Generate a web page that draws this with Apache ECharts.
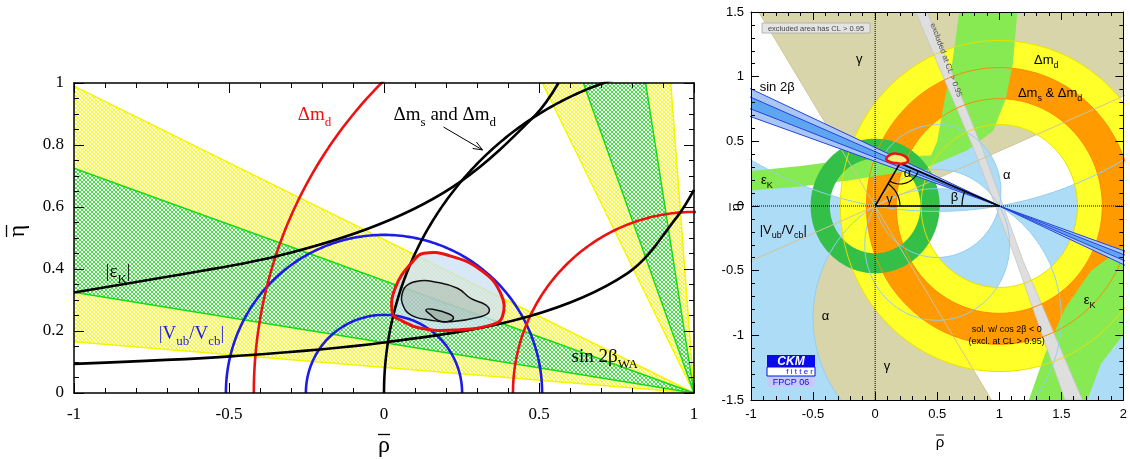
<!DOCTYPE html>
<html><head><meta charset="utf-8">
<script src="https://cdn.jsdelivr.net/npm/echarts@6/dist/echarts.min.js"></script>
<style>html,body{margin:0;padding:0;background:#fff}#c{width:1130px;height:459px}</style>
</head><body><div id="c"></div>
<script>
// ================= LEFT PANEL DATA =================
const sin2bEtaAtRhoM1 = [0.99, 0.725, 0.325, 0.165];   // wedge A edges (yellow, green, green, yellow) at rho=-1
const sin2bRhoAtEta1  = [0.511, 0.643, 0.844, 0.925];  // wedge B edges at eta=1
const vubRadiiL = [0.252, 0.51];
const dmdRadiiL = [0.584, 1.42];
const dmsCircleL = [1.06, 1.06];                        // centre rho, radius
const epsKLowerL = [[-1,0.094],[-0.484,0.119],[0,0.163],[0.463,0.246],[0.785,0.386],[0.946,0.569],[1.0,0.655]];
const epsKUpperL = [[-1,0.324],[-0.7,0.375],[-0.35,0.44],[-0.013,0.545],[0.247,0.682],[0.489,0.897],[0.563,1.0]];
const contourOuterL = [[0.027,0.257],[0.038,0.343],[0.097,0.429],[0.129,0.451],[0.204,0.445],[0.312,0.397],[0.376,0.322],[0.382,0.246],[0.344,0.219],[0.226,0.203],[0.118,0.209],[0.054,0.235]];
const contourMidL = [[0.059,0.322],[0.075,0.348],[0.118,0.362],[0.161,0.359],[0.237,0.338],[0.28,0.305],[0.328,0.284],[0.339,0.262],[0.312,0.246],[0.215,0.23],[0.151,0.235],[0.086,0.252],[0.059,0.289]];
const contourInnerL = [[0.135,0.268],[0.156,0.27],[0.21,0.255],[0.224,0.241],[0.204,0.23],[0.177,0.233],[0.151,0.252]];
const arrowL = [[0.192,0.858],[0.318,0.784]];

// ================= RIGHT PANEL DATA =================
const gammaRangeDeg = [23, 122];
const alphaRangesDeg = [[150, 189.5], [77, 121]];
const dmdRingR = [0.63, 1.28];
const dmsRingR = [0.83, 1.07];
const vubRingR = [0.365, 0.52];
const sin2bOuterR = [0.69, 0.905];   // eta at rho=-1
const sin2bInnerR = [0.75, 0.84];
const epsKBandHiLo = [[-1.05,0.115],[-0.6,0.15],[-0.2,0.2],[0.2,0.26],[0.42,0.3],[0.74,0.43],[0.95,0.58],[1.05,0.82],[1.11,1.1],[1.15,1.55]];
const epsKBandHiUp = [[-1.05,0.265],[-0.6,0.31],[-0.2,0.36],[0.1,0.38],[0.45,0.39],[0.5,0.5],[0.56,0.82],[0.62,1.1],[0.685,1.55]];
const epsKBandLow = [[1.22,-1.55],[1.37,-1.14],[1.53,-0.79],[1.74,-0.5],[2.05,-0.28],[2.05,-0.93],[1.82,-1.22],[1.69,-1.55]];
const grayBand = [[0.327,1.5],[0.42,1.5],[0.87,0.43],[1.19,-0.42],[1.67,-1.5],[1.53,-1.5],[1.135,-0.42],[0.8,0.43]];
const apexR = [0.2, 0.33];
const apexContourR = [[0.09,0.365],[0.12,0.395],[0.165,0.405],[0.235,0.388],[0.265,0.352],[0.235,0.33],[0.17,0.332],[0.115,0.342]];

// ================= HELPERS =================
const BIG = 30;
const serif = '"Liberation Serif","DejaVu Serif",serif';
const sans = '"Liberation Sans","DejaVu Sans",Arial,sans-serif';
const D2R = Math.PI/180;
function arcDeg(cx, cy, r, a0, a1, n){ n=n||180; const p=[]; for(let i=0;i<=n;i++){const t=(a0+(a1-a0)*i/n)*D2R; p.push([cx+r*Math.cos(t), cy+r*Math.sin(t)]);} return p; }
function arcRad(cx, cy, r, t0, t1, n){ n=n||300; const p=[]; for(let i=0;i<=n;i++){const t=t0+(t1-t0)*i/n; p.push([cx+r*Math.cos(t), cy+r*Math.sin(t)]);} return p; }
function ring(cx, cy, r1, r2){ return arcDeg(cx,cy,r2,0,360,240).concat(arcDeg(cx,cy,r1,360,0,240)); }
function hatch(rgb){ const c=document.createElement('canvas'); c.width=c.height=4; const g=c.getContext('2d'); const im=g.createImageData(4,4);
  for(let y=0;y<4;y++) for(let x=0;x<4;x++){ if(x===y || x===3-y){ const i=(y*4+x)*4; im.data[i]=rgb[0]; im.data[i+1]=rgb[1]; im.data[i+2]=rgb[2]; im.data[i+3]=255; } }
  g.putImageData(im,0,0); return c; }
const yellowHatch = {image: hatch([250,250,40]), repeat:'repeat'};
const greenHatch = {image: hatch([70,225,70]), repeat:'repeat'};

function polySeries(gi, polys, style, z, smooth){
  return {type:'custom', xAxisIndex:gi*2, yAxisIndex:gi*2, clip:true, silent:true, z:z, animation:false, data:[[0,0]],
    renderItem:(params, api)=>({type:'group', children: polys.map(p=>({type:'polygon', shape:{points:p.map(q=>api.coord(q)), smooth:smooth||0}, style:style}))})};
}
function lineSeries(gi, data, color, width, z, extra){
  const ls = Object.assign({color:color, width:width}, extra||{});
  return {type:'line', xAxisIndex:gi*2, yAxisIndex:gi*2, data:data, showSymbol:false, symbol:'none', silent:true, animation:false, z:z, lineStyle:ls, clip:true};
}
function kOf(a){ if(a<=0) return Infinity; if(a>=180) return -Infinity; return 0.5/Math.tan(a*D2R); }
function upperArc(k){ if(k===Infinity) return [[0,0],[-BIG,0],[-BIG,BIG],[BIG,BIG],[BIG,0],[1,0]]; if(k===-Infinity) return [[0,0],[1,0]];
  const R=Math.hypot(0.5,k), t0=Math.atan2(-k,-0.5), t1=Math.atan2(-k,0.5); return arcRad(0.5,k,R,t0, t1<t0?t1:t1-2*Math.PI, 400); }
function lowerArc(k){ if(k===-Infinity) return [[0,0],[-BIG,0],[-BIG,-BIG],[BIG,-BIG],[BIG,0],[1,0]]; if(k===Infinity) return [[0,0],[1,0]];
  const R=Math.hypot(0.5,k), t0=Math.atan2(-k,-0.5), t1=Math.atan2(-k,0.5); return arcRad(0.5,k,R,t0, t1>t0?t1:t1+2*Math.PI, 400); }
function alphaPolys(a1, a2){ const k1=kOf(a1), k2=kOf(a2); return [upperArc(k1).concat(upperArc(k2).slice().reverse()), lowerArc(k2).concat(lowerArc(k1).slice().reverse())]; }
let alphaRegion = [];
alphaRangesDeg.forEach(([a1,a2])=>{ if(a2>180){ alphaRegion=alphaRegion.concat(alphaPolys(a1,180), alphaPolys(0,a2-180)); } else alphaRegion=alphaRegion.concat(alphaPolys(a1,a2)); });
const alphaBounds = []; alphaRangesDeg.forEach(r=>r.forEach(a=>alphaBounds.push(a%180)));

// ================= LEFT SERIES =================
const [eYo, eGo, eGi, eYi] = sin2bEtaAtRhoM1;
const [rYo, rGo, rGi, rYi] = sin2bRhoAtEta1;
const series = [];
series.push(polySeries(0, [[[1,0],[-1,eYo],[-1,eGo]], [[1,0],[-1,eGi],[-1,eYi]], [[1,0],[rYo,1],[rGo,1]], [[1,0],[rGi,1],[rYi,1]]], {fill:yellowHatch}, 1));
series.push(polySeries(0, [[[1,0],[-1,eGo],[-1,eGi]], [[1,0],[rGo,1],[rGi,1]]], {fill:greenHatch}, 1));
[[-1,eYo],[-1,eYi],[rYo,1],[rYi,1]].forEach(p=>series.push(lineSeries(0,[[1,0],p],'#f4f400',1.5,2)));
[[-1,eGo],[-1,eGi],[rGo,1],[rGi,1]].forEach(p=>series.push(lineSeries(0,[[1,0],p],'#18d818',1.5,2)));
series.push(polySeries(0, [contourOuterL], {fill:'rgba(205,225,245,0.78)'}, 3, 0.45));
series.push(polySeries(0, [contourMidL], {fill:'rgba(160,172,160,0.45)'}, 3, 0.45));
series.push(polySeries(0, [contourInnerL], {fill:'rgba(130,145,130,0.3)'}, 3, 0.45));
vubRadiiL.forEach(r=>series.push(lineSeries(0, arcDeg(0,0,r,0,180), '#1c1ce6', 2.6, 4)));
dmdRadiiL.forEach(r=>series.push(lineSeries(0, arcDeg(1,0,r,0,180), '#ee1111', 2.6, 4)));
series.push(lineSeries(0, arcDeg(dmsCircleL[0],0,dmsCircleL[1],0,180,360), '#000', 2.6, 4));
series.push(Object.assign(lineSeries(0, epsKLowerL, '#000', 2.6, 4), {smooth:0.35}));
series.push(Object.assign(lineSeries(0, epsKUpperL, '#000', 2.6, 4), {smooth:0.35}));
series.push(polySeries(0, [contourOuterL], {fill:'none', stroke:'#ee1111', lineWidth:3}, 5, 0.45));
series.push(polySeries(0, [contourMidL], {fill:'none', stroke:'#111', lineWidth:1.5}, 5, 0.45));
series.push(polySeries(0, [contourInnerL], {fill:'none', stroke:'#111', lineWidth:1.5}, 5, 0.45));
series.push({type:'custom', xAxisIndex:0, yAxisIndex:0, silent:true, z:6, animation:false, data:[[0,0]],
  renderItem:(p, api)=>{ const a=api.coord(arrowL[0]), b=api.coord(arrowL[1]); const ang=Math.atan2(b[1]-a[1], b[0]-a[0]); const L=10, w=0.38;
    const h1=[b[0]-L*Math.cos(ang-w), b[1]-L*Math.sin(ang-w)], h2=[b[0]-L*Math.cos(ang+w), b[1]-L*Math.sin(ang+w)];
    return {type:'group', children:[{type:'line', shape:{x1:a[0],y1:a[1],x2:b[0],y2:b[1]}, style:{stroke:'#000', lineWidth:1}},
      {type:'polyline', shape:{points:[h1,b,h2]}, style:{stroke:'#000', lineWidth:1, fill:'none'}}]}; }});

// ================= RIGHT SERIES =================
const [g1, g2] = gammaRangeDeg; const gm=(g1+g2)/2;
const far = (a)=>[BIG*Math.cos(a*D2R), BIG*Math.sin(a*D2R)];
series.push(polySeries(1, [[[0,0],far(g1),far(gm),far(g2)], [[0,0],far(g1+180),far(gm+180),far(g2+180)]], {fill:'#d9d5ab'}, 1));
series.push(polySeries(1, alphaRegion, {fill:'#addcf6'}, 2));
series.push(polySeries(1, [ring(1,0,dmdRingR[0],dmdRingR[1])], {fill:'#ffff2a'}, 3));
series.push(polySeries(1, [ring(1,0,dmsRingR[0],dmsRingR[1])], {fill:'#ff9a00'}, 4));
series.push(polySeries(1, [epsKBandHiLo.concat(epsKBandHiUp.slice().reverse()), epsKBandLow], {fill:'#88ea52'}, 5));
series.push(polySeries(1, [ring(0,0,vubRingR[0],vubRingR[1])], {fill:'#34bf48'}, 6));
series.push(polySeries(1, [grayBand], {fill:'#dedede', stroke:'#c4c4c4', lineWidth:0.8}, 7));
alphaBounds.forEach(a=>{ const k=kOf(a); if(isFinite(k)) series.push(lineSeries(1, arcRad(0.5,k,Math.hypot(0.5,k),0,2*Math.PI,360), '#92cdf0', 1, 8)); });
gammaRangeDeg.forEach(a=>series.push(lineSeries(1, [far(a+180), far(a)], '#cdc59a', 1, 8)));
dmdRingR.forEach(r=>series.push(lineSeries(1, arcDeg(1,0,r,0,360,240), '#e8e000', 1, 8)));
dmsRingR.forEach(r=>series.push(lineSeries(1, arcDeg(1,0,r,0,360,240), '#ff8a00', 1, 8)));
const bandPolys = (e)=>[[[1,0],[-2,1.5*e[0]],[-2,1.5*e[1]]], [[1,0],[3,-e[0]],[3,-e[1]]]];
series.push(polySeries(1, bandPolys(sin2bOuterR), {fill:'#a9c6f5'}, 9));
series.push(polySeries(1, bandPolys(sin2bInnerR), {fill:'#5fa6f2'}, 9));
sin2bOuterR.concat(sin2bInnerR).forEach(e=>series.push(lineSeries(1, [[-2,1.5*e],[3,-e]], '#2444dc', 1, 10)));
series.push(lineSeries(1, [[0,-1.5],[0,1.5]], '#000', 1, 11, {type:'dotted'}));
series.push(lineSeries(1, [[-1,0],[2,0]], '#000', 1, 11, {type:'dotted'}));
series.push(lineSeries(1, [[0,0],[1,0]], '#000', 1.6, 12));
series.push(lineSeries(1, [[0,0],apexR,[1,0]], '#000', 1.6, 12));
const angApexTo1 = Math.atan2(-apexR[1], 1-apexR[0])/D2R, angApexTo0 = Math.atan2(-apexR[1], -apexR[0])/D2R, angGamma = Math.atan2(apexR[1],apexR[0])/D2R, angBeta = Math.atan2(apexR[1], apexR[0]-1)/D2R;
series.push(lineSeries(1, arcDeg(0,0,0.2,0,angGamma,40), '#000', 1.2, 12));
series.push(lineSeries(1, arcDeg(1,0,0.3,angBeta,180,40), '#000', 1.2, 12));
series.push(lineSeries(1, arcDeg(apexR[0],apexR[1],0.16,angApexTo0,angApexTo1,40), '#000', 1.2, 12));
series.push(polySeries(1, [apexContourR], {fill:'#eef27a', stroke:'#ee1111', lineWidth:2.5}, 13, 0.5));

// ================= AXES =================
function mkAxis(gi, pos, min, max, interval, split, showLabel, font, fs, margin, lw, tl){
  return {type:'value', gridIndex:gi, position:pos, min:min, max:max, interval:interval, z:60,
    axisLine:{show:true, onZero:false, lineStyle:{color:'#000', width:lw}},
    axisTick:{show:true, inside:true, length:tl, lineStyle:{color:'#000', width:1}},
    minorTick:{show:true, splitNumber:split, length:tl/2, lineStyle:{color:'#000', width:1}},
    axisLabel:{show:showLabel, color:'#000', fontFamily:font, fontSize:fs, margin:margin, showMinLabel:true, showMaxLabel:true},
    splitLine:{show:false}, minorSplitLine:{show:false}};
}
const option = {
  animation:false, backgroundColor:'#fff',
  grid:[{left:74, top:83, width:620, height:310}, {left:751, top:12, width:379, height:388}],
  xAxis:[mkAxis(0,'bottom',-1,1,0.5,5,true,serif,17,13,1.5,10), mkAxis(0,'top',-1,1,0.5,5,false,serif,17,13,1.5,10),
         mkAxis(1,'bottom',-1,2,0.5,5,true,sans,13,8,1,8), mkAxis(1,'top',-1,2,0.5,5,false,sans,13,8,1,8)],
  yAxis:[mkAxis(0,'left',0,1,0.2,4,true,serif,17,10,1.5,10), mkAxis(0,'right',0,1,0.2,4,false,serif,17,10,1.5,10),
         mkAxis(1,'left',-1.5,1.5,0.5,5,true,sans,13,7,1,8), mkAxis(1,'right',-1.5,1.5,0.5,5,false,sans,13,7,1,8)],
  series: series
};
const chart = echarts.init(document.getElementById('c'));
chart.setOption(option);

// ================= LABELS =================
const leftLabels = [
  {parts:[['Δm',''],['d','s']], at:[-0.278,0.897], color:'#ee1111'},
  {parts:[['Δm',''],['s','s'],[' and Δm',''],['d','s']], at:[0.031,0.897], color:'#000'},
  {parts:[['|ε',''],['K','s'],['|','']], at:[-0.898,0.39], color:'#000'},
  {parts:[['|V',''],['ub','s'],['/V',''],['cb','s'],['|','']], at:[-0.727,0.19], color:'#1c1ce6'},
  {parts:[['sin 2β',''],['WA','s']], at:[0.605,0.116], color:'#000'}
];
const rightLabels = [
  {parts:[['γ','']], at:[-0.155,1.13]},
  {parts:[['sin 2β','']], at:[-0.93,0.92]},
  {parts:[['Δm',''],['d','s']], at:[1.28,1.126]},
  {parts:[['Δm',''],['s','s'],[' & Δm',''],['d','s']], at:[1.15,0.87]},
  {parts:[['ε',''],['K','s']], at:[-0.92,0.2]},
  {parts:[['α','']], at:[1.03,0.235]},
  {parts:[['|V',''],['ub','s'],['/V',''],['cb','s'],['|','']], at:[-0.93,-0.19]},
  {parts:[['α','']], at:[-0.43,-0.855]},
  {parts:[['γ','']], at:[0.07,-1.24]},
  {parts:[['ε',''],['K','s']], at:[1.68,-0.73]},
  {parts:[['α','']], at:[0.23,0.253]},
  {parts:[['γ','']], at:[0.09,0.054]},
  {parts:[['β','']], at:[0.61,0.067]}
];
const smallNotes = [
  {text:'sol. w/ cos 2β < 0', at:[1.06,-0.955]},
  {text:'(excl. at CL > 0.95)', at:[1.06,-1.05]}
];
const mctx = document.createElement('canvas').getContext('2d');
function sty(t, font, fs, color, align){ return {text:t, fill:color, font:fs+'px '+font, align:align||'left', verticalAlign:'middle', textAlign:align||'left', textVerticalAlign:'middle'}; }
function build(lbl, gi, font, fs, sfs, color){
  const p = chart.convertToPixel({xAxisIndex:gi*2, yAxisIndex:gi*2}, lbl.at);
  let x=p[0]; const els=[];
  lbl.parts.forEach(([t,k])=>{ const f = k==='s'?sfs:fs; mctx.font = f+'px '+font; const w=mctx.measureText(t).width;
    els.push({type:'text', x:x, y:p[1] + (k==='s'? fs*0.38:0), z:100, silent:true, style:sty(t,font,f,color)}); x+=w; });
  return els;
}
let g = [];
leftLabels.forEach(l=>g=g.concat(build(l,0,serif,19,13,l.color)));
rightLabels.forEach(l=>g=g.concat(build(l,1,sans,13,9,'#000')));
smallNotes.forEach(n=>{ const p=chart.convertToPixel({xAxisIndex:2,yAxisIndex:2}, n.at); g.push({type:'text', x:p[0], y:p[1], z:100, silent:true, style:sty(n.text,sans,9,'#000','center')}); });
function barLine(x1,y1,x2,y2,w){ return {type:'line', z:100, silent:true, shape:{x1:x1,y1:y1,x2:x2,y2:y2}, style:{stroke:'#000', lineWidth:w}}; }
g.push({type:'text', x:18, y:231, rotation:Math.PI/2, z:100, silent:true, style:sty('η',serif,24,'#000','center')});
g.push(barLine(6.5,225,6.5,237,1.3));
g.push({type:'text', x:384, y:446, z:100, silent:true, style:sty('ρ',serif,24,'#000','center')});
g.push(barLine(378,434.5,390,434.5,1.3));
g.push({type:'text', x:737, y:207, rotation:Math.PI/2, z:100, silent:true, style:sty('η',sans,15,'#000','center')});
g.push(barLine(730,203,730,211,1));
g.push({type:'text', x:940, y:443, z:100, silent:true, style:sty('ρ',sans,15,'#000','center')});
g.push(barLine(936,435,944,435,1));
g.push({type:'rect', shape:{x:762, y:23, width:108, height:10}, z:100, silent:true, style:{fill:'#e4e4e4', stroke:'#a8a8a8', lineWidth:0.8}});
g.push({type:'text', x:816, y:28.5, z:101, silent:true, style:sty('excluded area has CL > 0.95',sans,7.5,'#444','center')});
g.push({type:'text', x:946, y:60, rotation:-69.6*D2R, z:100, silent:true, style:sty('excluded at CL > 0.95',sans,8,'#555','center')});
g.push({type:'rect', shape:{x:767, y:355, width:48, height:12}, z:100, silent:true, style:{fill:'#0a0aee'}});
g.push({type:'text', x:791, y:361.5, z:101, silent:true, style:{text:'CKM', fill:'#fff', font:'italic bold 12px '+sans, align:'center', verticalAlign:'middle', textAlign:'center', textVerticalAlign:'middle'}});
g.push({type:'rect', shape:{x:767, y:367, width:48, height:9}, z:100, silent:true, style:{fill:'#fff', stroke:'#0a0aee', lineWidth:1}});
g.push({type:'text', x:813, y:372, z:101, silent:true, style:sty('f i t t e r',sans,8,'#0a0aee','right')});
g.push({type:'rect', shape:{x:767, y:377, width:48, height:10}, z:100, silent:true, style:{fill:'#c8c8fa'}});
g.push({type:'text', x:791, y:382.5, z:101, silent:true, style:sty('FPCP 06',sans,9,'#0a0aee','center')});
chart.setOption({graphic:{elements:g}});
</script></body></html>
